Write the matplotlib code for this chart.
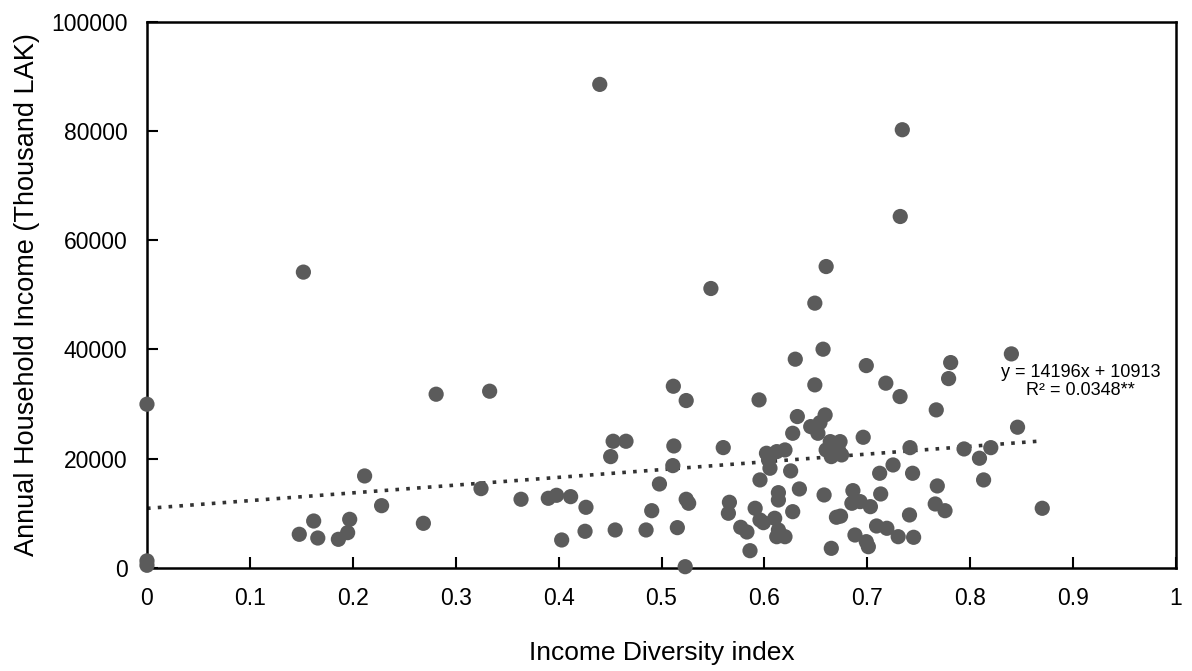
import matplotlib
matplotlib.use("Agg")
import matplotlib.pyplot as plt
import numpy as np

plt.rcParams['font.family'] = ['Liberation Sans', 'DejaVu Sans']

# income diversity index vs annual household income (thousand LAK)
diversity = [0.000, 0.000, 0.000, 0.148, 0.152, 0.162, 0.166, 0.186, 0.195, 0.197,
             0.2115, 0.228, 0.2686, 0.281, 0.3246, 0.333, 0.3635, 0.390, 0.398, 0.403,
             0.4117, 0.4257, 0.4266, 0.440, 0.4506, 0.453, 0.455, 0.4655, 0.485, 0.4905,
             0.498, 0.511, 0.5115, 0.512, 0.5154, 0.523, 0.524, 0.524, 0.5264, 0.548,
             0.560, 0.565, 0.566, 0.577, 0.583, 0.586, 0.591, 0.5948, 0.5957, 0.5957,
             0.599, 0.602, 0.604, 0.6054, 0.610, 0.612, 0.612, 0.6136, 0.6136, 0.6136,
             0.620, 0.620, 0.6255, 0.6275, 0.6275, 0.630, 0.632, 0.634, 0.645, 0.649,
             0.649, 0.652, 0.654, 0.657, 0.658, 0.659, 0.660, 0.660, 0.664, 0.665,
             0.665, 0.670, 0.674, 0.6735, 0.672, 0.675, 0.685, 0.686, 0.688, 0.693,
             0.696, 0.699, 0.699, 0.701, 0.703, 0.709, 0.712, 0.713, 0.718, 0.719,
             0.725, 0.730, 0.732, 0.7318, 0.734, 0.741, 0.7415, 0.744, 0.745, 0.766,
             0.767, 0.768, 0.7755, 0.779, 0.781, 0.794, 0.809, 0.813, 0.820, 0.840,
             0.846, 0.870]
income = [29980, 1300, 500, 6170, 54160, 8600, 5490, 5250, 6470, 8910,
          16850, 11410, 8180, 31810, 14530, 32360, 12580, 12760, 13310, 5130,
          13060, 6720, 11110, 88520, 20390, 23200, 6960, 23200, 6960, 10490,
          15380, 18740, 33270, 22340, 7390, 240, 30650, 12580, 11850, 51160,
          22040, 10020, 12030, 7450, 6590, 3170, 10930, 30770, 16120, 8790,
          8300, 21000, 19780, 18260, 9100, 21300, 5730, 13790, 12450, 6960,
          21610, 5730, 17770, 24660, 10310, 38220, 27720, 14470, 25880, 48480,
          33520, 24660, 26610, 40050, 13370, 28020, 55180, 21610, 23130, 20390,
          3600, 9290, 9500, 23130, 21610, 20700, 11850, 14160, 6040, 12150,
          23930, 37050, 4820, 3900, 11230, 7690, 17340, 13550, 33830, 7270,
          18860, 5730, 64340, 31380, 80220, 9710, 22030, 17340, 5620, 11720,
          28940, 15020, 10490, 34670, 37600, 21790, 20090, 16120, 22030, 39190,
          25770, 10930]

slope = 14196
intercept = 10913
x_ticks = [0, 0.1, 0.2, 0.3, 0.4, 0.5, 0.6, 0.7, 0.8, 0.9, 1]
x_tick_labels = ['0', '0.1', '0.2', '0.3', '0.4', '0.5', '0.6', '0.7', '0.8', '0.9', '1']
y_ticks = [0, 20000, 40000, 60000, 80000, 100000]

fig = plt.figure(figsize=(11.92, 6.71), dpi=100)
ax = fig.add_axes([0.1233, 0.1535, 0.8633, 0.8142])

ax.scatter(diversity, income, s=120, color='#5b5b5b', edgecolors='none', zorder=3, clip_on=False)

# linear trend line
xl = np.linspace(0, max(diversity), 50)
ax.plot(xl, slope * xl + intercept, linestyle=(0, (1, 2)), color='#333333', linewidth=2.6, zorder=2)

ax.text(0.907, 0.342, 'y = 14196x + 10913\nR² = 0.0348**', transform=ax.transAxes,
        ha='center', va='center', fontsize=13, linespacing=1.1, zorder=4)

ax.set_xlim(0, 1)
ax.set_ylim(0, 100000)
ax.set_xticks(x_ticks)
ax.set_xticklabels(x_tick_labels)
ax.set_yticks(y_ticks)
ax.tick_params(axis='both', direction='in', length=8, width=1.5, labelsize=16.5)
ax.tick_params(axis='x', pad=14)
ax.tick_params(axis='y', pad=14)
for sp in ax.spines.values():
    sp.set_linewidth(1.8)
    sp.set_color('black')

ax.set_xlabel('Income Diversity index', fontsize=19, labelpad=22)
ax.set_ylabel('Annual Household Income (Thousand LAK)', fontsize=19.5, labelpad=8)

fig.savefig('out.png', dpi=100)
